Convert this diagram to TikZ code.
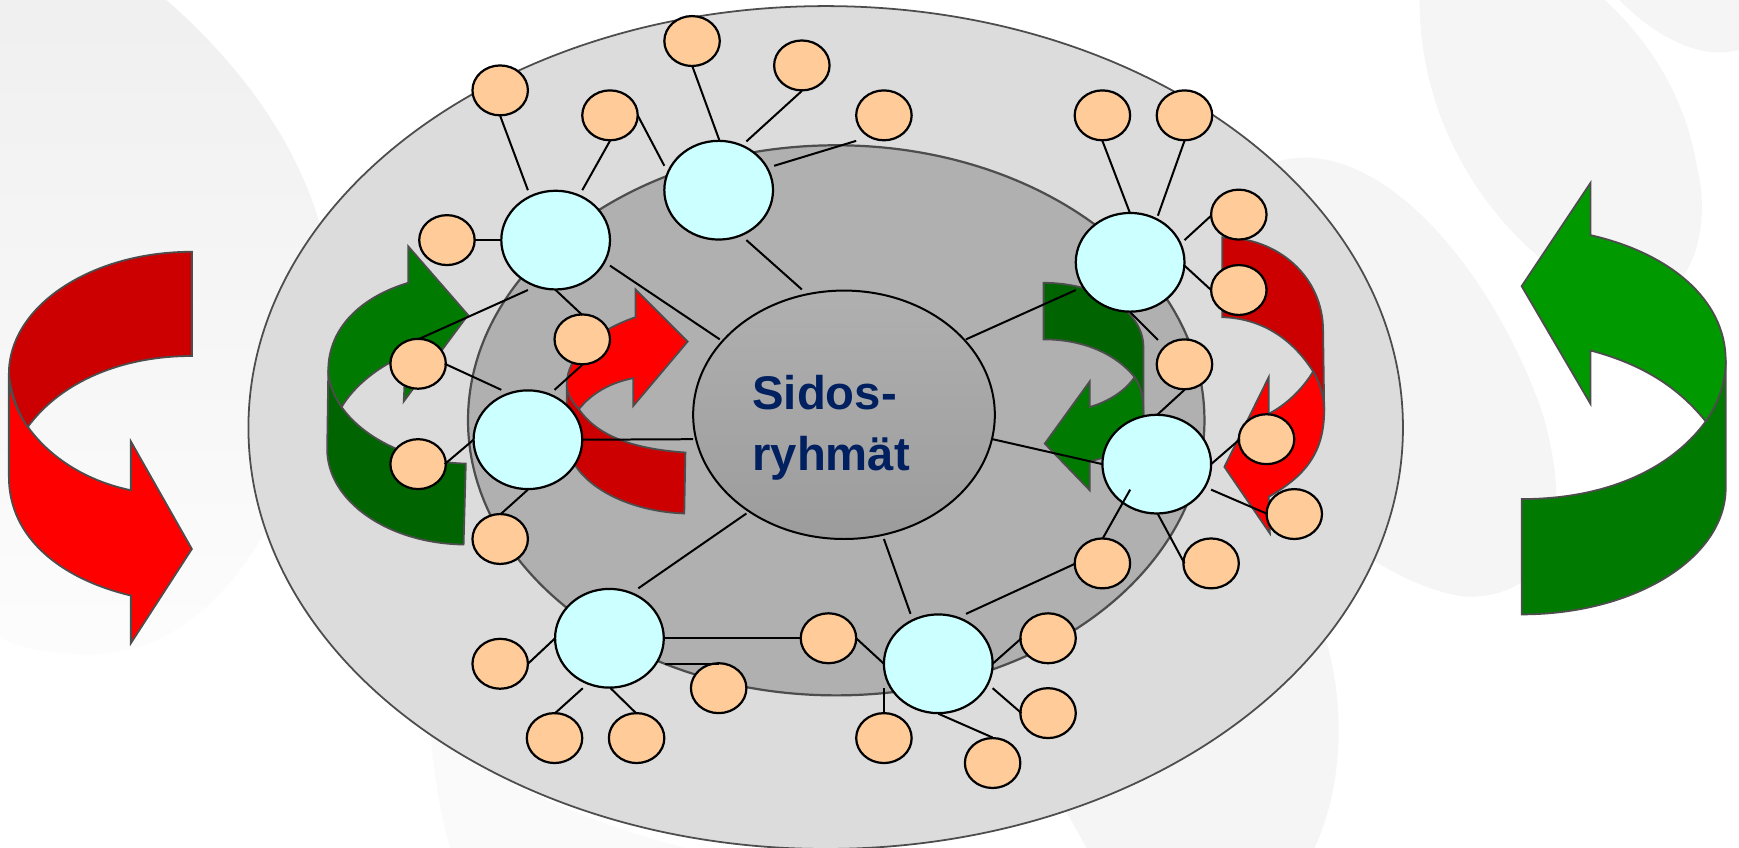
\documentclass[tikz,border=0pt]{standalone}
\usepackage{fontspec}
\setmainfont{Liberation Sans}
\usetikzlibrary{shapes.geometric}
\definecolor{cyanfill}{HTML}{CCFFFF}
\definecolor{peach}{HTML}{FFCC99}
\definecolor{edgegrey}{HTML}{4D4D4D}
\definecolor{outerfill}{HTML}{DCDCDC}
\definecolor{midfill}{HTML}{B0B0B0}
\definecolor{navytext}{HTML}{002060}
\definecolor{brightred}{HTML}{FF0000}
\definecolor{darkred}{HTML}{CC0000}
\definecolor{brightgreen}{HTML}{009900}
\definecolor{midgreen}{HTML}{007A00}
\definecolor{darkgreen}{HTML}{006400}
\definecolor{blob}{HTML}{F5F5F5}
\definecolor{paleblob}{HTML}{FAFAFA}
\definecolor{innertop}{HTML}{B0B0B0}
\definecolor{innerbottom}{HTML}{9C9C9C}
\tikzset{
  hub/.style={ellipse,draw=black,line width=1pt,fill=cyanfill,minimum width=49pt,minimum height=44.5pt,inner sep=0pt},
  leaf/.style={ellipse,draw=black,line width=1pt,fill=peach,minimum width=25pt,minimum height=22.5pt,inner sep=0pt},
  link/.style={draw=black,line width=0.9pt},
  band/.style={draw=edgegrey,line width=0.8pt,line join=miter},
  bgblob/.style={fill=blob,draw=none},
}
\newcommand{\lnk}[4]{\draw[link] ([shift={(#2)}]#1.center) -- ([shift={(#4)}]#3.center);}
\begin{document}
\begin{tikzpicture}[x=0.5pt,y=-0.5pt]
\useasboundingbox (0,0) rectangle (1568,764.6);
\clip (0,0) rectangle (1568,764.6);
% background blobs
\fill[white] (0,0) rectangle (1568,764.6);
\path[shade,top color=black!6,bottom color=black!1,draw=none] (0,0) -- (150,0) .. controls (230,70) and (280,150) .. (295,230) .. controls (300,400) and (220,590) .. (80,590) .. controls (50,590) and (20,585) .. (0,575) -- cycle;
\fill[paleblob] (388,660) .. controls (440,700) and (520,740) .. (620,765) -- (406,765) .. controls (396,730) and (391,695) .. (388,660) -- cycle;
\fill[bgblob] (955,720) -- (1190,560) .. controls (1212,620) and (1215,700) .. (1185,765) -- (980,765) -- cycle;
\fill[bgblob] (1280,0) .. controls (1280,90) and (1320,170) .. (1380,225) .. controls (1420,260) and (1470,280) .. (1500,270) .. controls (1535,240) and (1540,190) .. (1530,150) .. controls (1520,90) and (1490,40) .. (1447,0) -- cycle;
\fill[bgblob] (1460,0) .. controls (1490,30) and (1530,55) .. (1568,45) -- (1568,0) -- cycle;
\fill[bgblob] (1140,150) .. controls (1230,110) and (1340,230) .. (1390,370) .. controls (1420,470) and (1400,540) .. (1320,538) .. controls (1270,530) and (1230,500) .. (1200,480) -- cycle;
% ovals
\node[ellipse,draw=edgegrey,line width=0.8pt,fill=outerfill,minimum width=520.5pt,minimum height=380pt,inner sep=0pt] (outer) at (744.5,385.5) {};
\node[ellipse,draw=edgegrey,line width=1pt,fill=midfill,minimum width=332pt,minimum height=248pt,inner sep=0pt] (mid) at (754,379) {};
\node[ellipse,draw=black,line width=0.9pt,top color=innertop,bottom color=innerbottom,minimum width=136pt,minimum height=112pt,inner sep=0pt] (I) at (761,374) {};
\node[anchor=west,align=left,text=navytext,font=\fontsize{21.3}{27.5}\selectfont\bfseries,inner sep=0pt] (title) at (678,386) {Sidos-\\ryhmät};
% left red
\filldraw[band,fill=brightred] (8,337) -- (8,430) .. controls (8,485) and (55,522) .. (118,537) -- (118,580) -- (173,495) -- (118,398) -- (118,442) .. controls (50,428) and (8,378) .. (8,337) -- cycle;
\filldraw[band,fill=darkred] (173,227) .. controls (82,227) and (8,276) .. (8,337) .. controls (10,355) and (16,372) .. (25,385) .. controls (55,344) and (110,321) .. (173,321) -- cycle;
% right big green
\filldraw[band,fill=midgreen] (1372,450) .. controls (1445,450) and (1505,425) .. (1538,380) .. controls (1549,364) and (1556,345) .. (1556,325) -- (1556,440) .. controls (1556,503) and (1474,554) .. (1372,554) -- cycle;
\filldraw[band,fill=brightgreen] (1372,258) -- (1434,165) -- (1434,212) .. controls (1505,228) and (1556,270) .. (1556,325) .. controls (1556,345) and (1549,364) .. (1538,380) .. controls (1510,345) and (1475,327) .. (1434,316) -- (1434,364) -- cycle;
% left middle green
\filldraw[band,fill=darkgreen] (296,334) -- (295,405) .. controls (295,452) and (350,490) .. (418,491) -- (420,418) .. controls (375,417) and (330,398) .. (308,367) .. controls (302,358) and (296,346) .. (296,334) -- cycle;
\filldraw[band,fill=midgreen] (368,222) -- (422,284) -- (364,362) -- (366,320) .. controls (342,330) and (320,347) .. (308,367) .. controls (301,357) and (296,345) .. (296,334) .. controls (296,296) and (325,268) .. (368,255) -- cycle;
% centre red
\filldraw[band,fill=darkred] (511,347) -- (511,395) .. controls (511,432) and (560,461) .. (617,463) -- (618,408) .. controls (575,405) and (540,395) .. (522,369) .. controls (516,362) and (511,355) .. (511,347) -- cycle;
\filldraw[band,fill=brightred] (573,261) -- (620,308) -- (571,366) -- (571,341) .. controls (550,345) and (533,355) .. (522,369) .. controls (516,362) and (511,355) .. (511,347) .. controls (511,320) and (538,298) .. (573,286) -- cycle;
% right red
\filldraw[band,fill=darkred] (1102,214) .. controls (1153,214) and (1193,250) .. (1193,298) -- (1194,370) .. controls (1194,358) and (1190,345) .. (1184,335) .. controls (1165,305) and (1137,287) .. (1102,286) -- cycle;
\filldraw[band,fill=brightred] (1184,335) .. controls (1190,345) and (1194,358) .. (1194,370) .. controls (1194,410) and (1175,430) .. (1144,448) -- (1145,481) -- (1104,421) -- (1144,340) -- (1144,373) .. controls (1160,365) and (1175,350) .. (1184,335) -- cycle;
% right inner green
\filldraw[band,fill=darkgreen] (941,255) .. controls (990,255) and (1031,280) .. (1031,313) -- (1031,376) .. controls (1031,362) and (1030,350) .. (1023,340) .. controls (1005,318) and (975,306) .. (941,306) -- cycle;
\filldraw[band,fill=midgreen] (1023,340) .. controls (1030,350) and (1031,362) .. (1031,376) .. controls (1031,395) and (1010,410) .. (982.5,416) -- (982.5,442) -- (942,400) -- (982.5,344) -- (982.5,367) .. controls (1000,362) and (1015,352) .. (1023,340) -- cycle;
% hubs
\node[hub] (A) at (501,216.5) {};
\node[hub] (B) at (648,171.5) {};
\node[hub] (C) at (1019,236.5) {};
\node[hub] (D) at (1043,418.5) {};
\node[hub] (E) at (846,598.5) {};
\node[hub] (F) at (549.5,575.5) {};
\node[hub] (G) at (476,396.5) {};
% leaves
\node[leaf] (p1) at (451,81.5) {};
\node[leaf] (p2) at (624,37) {};
\node[leaf] (p3) at (723,59) {};
\node[leaf] (p4) at (797,104) {};
\node[leaf] (p5) at (550,104) {};
\node[leaf] (p6) at (403,216.5) {};
\node[leaf] (p7) at (525,306) {};
\node[leaf] (p8) at (377,328) {};
\node[leaf] (p9) at (377,418.5) {};
\node[leaf] (p10) at (451,486) {};
\node[leaf] (p11) at (994,104) {};
\node[leaf] (p12) at (1068,104) {};
\node[leaf] (p13) at (1117,193.5) {};
\node[leaf] (p14) at (1117,261.5) {};
\node[leaf] (p15) at (1068,328.5) {};
\node[leaf] (p16) at (1142,396) {};
\node[leaf] (p17) at (1167,463.5) {};
\node[leaf] (p18) at (994,508) {};
\node[leaf] (p19) at (1092,508) {};
\node[leaf] (p20) at (945,575.5) {};
\node[leaf] (p21) at (945,643) {};
\node[leaf] (p22) at (895,688) {};
\node[leaf] (p23) at (797,665.5) {};
\node[leaf] (p24) at (747,575.5) {};
\node[leaf] (p25) at (648,620.5) {};
\node[leaf] (p26) at (574,665.5) {};
\node[leaf] (p27) at (500,665.5) {};
\node[leaf] (p28) at (451,598.5) {};
% connectors
\lnk{p1}{0,23}{A}{-25,-45}
\lnk{p5}{0,23}{A}{24,-45}
\lnk{p5}{25,0}{B}{-49,-22}
\lnk{p2}{0,22}{B}{1,-44}
\lnk{p3}{0,23}{B}{25,-44}
\lnk{p4}{-25,23}{B}{50,-22}
\lnk{p6}{24,0}{A}{-50,0}
\lnk{A}{0,45}{p7}{0,-22}
\lnk{p7}{0,23}{G}{24,-45}
\lnk{A}{-25,45}{p8}{0,-22}
\lnk{p8}{24,0}{G}{-24,-45}
\lnk{p9}{24,0}{G}{-49,0}
\lnk{p10}{0,-22}{G}{0,45}
\lnk{G}{49,0}{I}{-136,22}
\lnk{A}{49,23}{I}{-112,-68}
\lnk{B}{25,45}{I}{-38,-113}
\lnk{I}{110,-68}{C}{-49,25}
\lnk{I}{134,22}{D}{-49,0}
\lnk{I}{36,112}{E}{-25,-45}
\lnk{I}{-88,89}{F}{26,-45}
\lnk{C}{0,-44}{p11}{0,23}
\lnk{C}{25,-42}{p12}{0,23}
\lnk{C}{49,-20}{p13}{-25,1}
\lnk{C}{49,3}{p14}{-25,0}
\lnk{C}{0,45}{p15}{-24,-22}
\lnk{p15}{0,23}{D}{1,-45}
\lnk{D}{49,0}{p16}{-24,0}
\lnk{D}{49,23}{p17}{-24,0}
\lnk{D}{-24,23}{p18}{0,-22}
\lnk{D}{1,45}{p19}{-24,0}
\lnk{p18}{-24,0}{E}{25,-45}
\lnk{E}{49,0}{p20}{-24,0}
\lnk{E}{49,22}{p21}{-24,0}
\lnk{E}{0,45}{p22}{0,-23}
\lnk{E}{-49,22}{p23}{0,-22}
\lnk{p24}{25,0}{E}{-49,0}
\lnk{F}{50,0}{p24}{-24,0}
\lnk{F}{50,23}{p25}{0,-22}
\lnk{F}{1,45}{p26}{0,-22}
\lnk{F}{-24,45}{p27}{0,-22}
\lnk{p28}{25,0}{F}{-49,0}
\end{tikzpicture}
\end{document}
